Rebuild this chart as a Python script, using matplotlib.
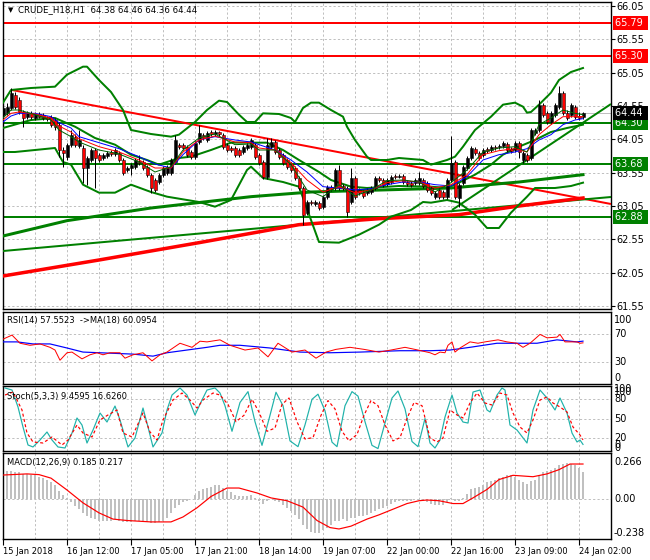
import numpy as np
import matplotlib
matplotlib.use("Agg")
from matplotlib import pyplot as plt
from matplotlib.transforms import blended_transform_factory as blend

plt.rcParams['font.family'] = ['DejaVu Sans']

W, H = 650, 560

# ---- CRUDE_H18 hourly bars ----
bar_open = [64.42, 64.44, 64.52, 64.72, 64.64, 64.46, 64.39, 64.44, 64.37, 64.43,
            64.42, 64.39, 64.39, 64.34, 64.27, 63.89, 63.79, 63.97, 64.09, 63.95,
            63.92, 63.62, 63.74, 63.89, 63.82, 63.77, 63.80, 63.86, 63.83, 63.85,
            63.74, 63.59, 63.62, 63.64, 63.73, 63.71, 63.64, 63.52, 63.44, 63.41,
            63.52, 63.55, 63.55, 63.71, 63.97, 63.97, 63.94, 63.86, 63.79, 64.01,
            64.12, 64.04, 64.16, 64.13, 64.16, 64.12, 63.97, 63.92, 63.92, 63.89,
            63.86, 63.92, 63.94, 63.97, 63.82, 63.71, 63.49, 63.94, 64.01, 63.89,
            63.82, 63.74, 63.68, 63.62, 63.47, 63.32, 62.95, 63.11, 63.08, 63.10,
            63.04, 63.19, 63.34, 63.32, 63.59, 63.35, 63.32, 63.11, 63.47, 63.29,
            63.26, 63.25, 63.26, 63.32, 63.47, 63.44, 63.38, 63.41, 63.50, 63.49,
            63.50, 63.41, 63.40, 63.40, 63.40, 63.44, 63.40, 63.32, 63.19, 63.29,
            63.26, 63.19, 63.44, 63.71, 63.17, 63.40, 63.62, 63.77, 63.91, 63.85,
            63.82, 63.91, 63.89, 63.94, 63.94, 63.95, 63.98, 63.91, 63.89, 64.00,
            63.74, 63.82, 63.77, 64.15, 64.19, 64.57, 64.44, 64.31, 64.42, 64.54,
            64.75, 64.44, 64.42, 64.54, 64.40, 64.38]
bar_high = [64.58, 64.60, 64.82, 64.76, 64.69, 64.49, 64.48, 64.48, 64.46, 64.46,
            64.44, 64.40, 64.42, 64.37, 64.31, 63.94, 64.00, 64.19, 64.13, 64.19,
            63.97, 63.80, 63.92, 63.92, 63.85, 63.85, 63.88, 63.89, 63.92, 63.88,
            63.77, 63.65, 63.70, 63.77, 63.82, 63.74, 63.67, 63.55, 63.47, 63.55,
            63.65, 63.67, 63.77, 64.12, 64.00, 64.00, 63.97, 63.89, 64.03, 64.27,
            64.15, 64.18, 64.19, 64.19, 64.18, 64.15, 64.00, 63.95, 63.95, 63.92,
            63.97, 64.00, 64.07, 64.00, 63.85, 63.74, 64.07, 64.07, 64.04, 63.92,
            63.85, 63.77, 63.71, 63.65, 63.50, 63.35, 63.14, 63.14, 63.14, 63.13,
            63.22, 63.37, 63.37, 63.62, 63.67, 63.38, 63.35, 63.62, 63.50, 63.32,
            63.29, 63.32, 63.35, 63.50, 63.50, 63.47, 63.47, 63.52, 63.53, 63.53,
            63.53, 63.44, 63.43, 63.47, 63.56, 63.47, 63.43, 63.35, 63.28, 63.32,
            63.29, 63.47, 64.10, 63.74, 63.40, 63.67, 63.80, 63.95, 63.94, 63.88,
            63.92, 63.94, 63.97, 63.97, 63.98, 64.03, 64.01, 63.94, 64.03, 64.03,
            63.88, 63.85, 64.22, 64.22, 64.64, 64.60, 64.48, 64.48, 64.60, 64.85,
            64.78, 64.49, 64.60, 64.57, 64.46, 64.46]
bar_low = [64.39, 64.42, 64.49, 64.51, 64.43, 64.24, 64.36, 64.36, 64.34, 64.37,
           64.34, 64.33, 64.24, 64.19, 63.79, 63.64, 63.74, 63.94, 63.94, 63.92,
           63.40, 63.37, 63.71, 63.32, 63.71, 63.74, 63.77, 63.80, 63.80, 63.71,
           63.52, 63.56, 63.52, 63.61, 63.67, 63.59, 63.49, 63.25, 63.26, 63.38,
           63.49, 63.52, 63.52, 63.68, 63.91, 63.89, 63.79, 63.76, 63.76, 63.98,
           64.04, 64.01, 64.10, 64.10, 64.10, 63.91, 63.86, 63.86, 63.79, 63.79,
           63.83, 63.89, 63.91, 63.76, 63.67, 63.46, 63.46, 63.91, 63.83, 63.76,
           63.67, 63.61, 63.56, 63.44, 63.29, 62.77, 62.92, 63.07, 63.05, 62.99,
           63.01, 63.16, 63.28, 63.29, 63.29, 63.29, 62.89, 63.08, 63.16, 63.22,
           63.17, 63.22, 63.23, 63.29, 63.41, 63.34, 63.35, 63.38, 63.46, 63.47,
           63.38, 63.35, 63.34, 63.37, 63.37, 63.32, 63.26, 63.22, 63.16, 63.16,
           63.16, 63.16, 63.41, 63.16, 63.04, 63.37, 63.59, 63.74, 63.82, 63.74,
           63.79, 63.85, 63.86, 63.89, 63.91, 63.92, 63.86, 63.85, 63.86, 63.77,
           63.70, 63.71, 63.74, 64.12, 64.16, 64.39, 64.28, 64.28, 64.39, 64.51,
           64.42, 64.34, 64.39, 64.36, 64.34, 64.36]
bar_close = [64.52, 64.54, 64.75, 64.54, 64.46, 64.37, 64.44, 64.39, 64.43, 64.39,
             64.37, 64.36, 64.27, 64.24, 63.89, 63.85, 63.97, 64.12, 63.97, 64.04,
             63.62, 63.77, 63.89, 63.77, 63.74, 63.82, 63.85, 63.83, 63.89, 63.74,
             63.55, 63.62, 63.67, 63.74, 63.70, 63.62, 63.52, 63.32, 63.29, 63.52,
             63.62, 63.64, 63.74, 64.04, 63.94, 63.92, 63.82, 63.79, 64.00, 64.15,
             64.07, 64.15, 64.13, 64.16, 64.13, 63.94, 63.89, 63.89, 63.82, 63.82,
             63.94, 63.97, 64.04, 63.79, 63.70, 63.49, 63.97, 64.01, 63.86, 63.79,
             63.70, 63.64, 63.59, 63.47, 63.32, 62.92, 63.11, 63.10, 63.11, 63.02,
             63.19, 63.34, 63.31, 63.59, 63.32, 63.32, 62.96, 63.47, 63.19, 63.25,
             63.20, 63.29, 63.32, 63.47, 63.44, 63.37, 63.44, 63.49, 63.49, 63.50,
             63.41, 63.38, 63.37, 63.44, 63.47, 63.35, 63.29, 63.25, 63.25, 63.19,
             63.19, 63.44, 63.70, 63.19, 63.37, 63.64, 63.77, 63.92, 63.85, 63.77,
             63.89, 63.88, 63.94, 63.92, 63.95, 64.00, 63.89, 63.88, 64.00, 63.86,
             63.85, 63.74, 64.19, 64.19, 64.57, 64.42, 64.31, 64.44, 64.57, 64.75,
             64.44, 64.37, 64.57, 64.39, 64.37, 64.44]

# bollinger bands (vertices: bar index, price)
bb_up_x = [0, 2, 7, 13, 16, 20, 21, 24, 27, 30, 32, 37, 42, 44, 48, 51, 54, 56, 59, 61,
           63, 65, 69, 72, 73, 75, 77, 79, 82, 85, 86, 88, 91, 92, 96, 99, 105, 107, 111,
           113, 115, 118, 122, 125, 128, 130, 131, 132, 134, 137, 139, 142, 145]
bb_up = [64.60, 64.79, 64.82, 64.84, 65.02, 65.14, 65.14, 64.94, 64.76, 64.49, 64.19, 64.13,
         64.09, 64.12, 64.31, 64.49, 64.63, 64.61, 64.42, 64.31, 64.31, 64.44, 64.43, 64.37,
         64.31, 64.52, 64.60, 64.60, 64.49, 64.39, 64.24, 64.04, 63.79, 63.74, 63.74, 63.77,
         63.74, 63.67, 63.74, 63.79, 63.94, 64.19, 64.39, 64.57, 64.60, 64.54, 64.45, 64.46,
         64.57, 64.75, 64.94, 65.06, 65.12]
bb_mid_x = [0, 7, 13, 18, 23, 28, 32, 36, 39, 44, 47, 52, 57, 66, 70, 74, 79, 82, 87, 91,
            99, 107, 111, 114, 118, 122, 125, 129, 133, 137, 141, 145]
bb_mid = [64.22, 64.34, 64.37, 64.24, 64.07, 63.97, 63.82, 63.74, 63.67, 63.77, 63.79, 63.89,
          64.00, 64.00, 63.89, 63.74, 63.56, 63.44, 63.34, 63.32, 63.35, 63.34, 63.32, 63.40,
          63.52, 63.67, 63.82, 63.94, 64.04, 64.16, 64.22, 64.27]
bb_lo_x = [0, 3, 13, 15, 17, 20, 24, 28, 32, 37, 41, 49, 53, 57, 61, 62, 65, 70, 74, 77,
           79, 84, 89, 94, 97, 102, 105, 107, 111, 114, 118, 121, 124, 127, 131, 133, 138,
           142, 145]
bb_lo = [63.86, 63.86, 63.92, 63.71, 63.67, 63.37, 63.25, 63.25, 63.37, 63.26, 63.19, 63.11,
         63.04, 63.14, 63.59, 63.64, 63.47, 63.41, 63.34, 62.84, 62.51, 62.50, 62.62, 62.77,
         62.89, 62.99, 63.11, 63.10, 63.14, 63.10, 62.92, 62.72, 62.72, 62.95, 63.19, 63.32,
         63.32, 63.35, 63.40]

# fast moving averages (blue / red / green)
ma_x = [0, 2, 4, 8, 12, 14, 17, 19, 24, 29, 34, 38, 42, 45, 49, 53, 58, 62, 64, 68, 72,
        76, 80, 84, 88, 92, 96, 100, 104, 108, 112, 116, 120, 124, 128, 131, 134, 137,
        140, 143, 145]
ma_blue = [64.31, 64.40, 64.44, 64.44, 64.39, 64.30, 64.22, 64.09, 64.00, 63.91, 63.79, 63.68,
           63.62, 63.82, 64.04, 64.09, 64.04, 64.01, 63.97, 63.89, 63.74, 63.56, 63.34, 63.32,
           63.29, 63.31, 63.37, 63.41, 63.41, 63.37, 63.35, 63.49, 63.74, 63.82, 63.86, 63.91,
           64.04, 64.12, 64.27, 64.34, 64.36]
ma_red = [64.34, 64.44, 64.46, 64.43, 64.37, 64.25, 64.16, 64.06, 63.94, 63.86, 63.74, 63.62,
          63.62, 63.86, 64.04, 64.10, 64.01, 64.00, 63.92, 63.89, 63.70, 63.44, 63.26, 63.34,
          63.25, 63.29, 63.40, 63.43, 63.41, 63.32, 63.37, 63.52, 63.82, 63.88, 63.91, 63.86,
          64.12, 64.27, 64.39, 64.39, 64.39]
ma_green = [64.37, 64.49, 64.49, 64.42, 64.34, 64.19, 64.09, 64.01, 63.89, 63.83, 63.71, 63.56,
            63.64, 63.89, 64.07, 64.13, 63.97, 63.98, 63.89, 63.89, 63.67, 63.29, 63.19, 63.37,
            63.20, 63.29, 63.43, 63.44, 63.41, 63.26, 63.40, 63.59, 63.86, 63.92, 63.94, 63.86,
            64.27, 64.37, 64.49, 64.44, 64.42]

# slow moving averages (thick red / thick green)
slow_red_x = [0, 24, 49, 74, 94, 114, 129, 145]
slow_red = [62.00, 62.24, 62.50, 62.77, 62.86, 62.92, 63.05, 63.17]
slow_green_x = [0, 16, 37, 62, 77, 112, 129, 145]
slow_green = [62.60, 62.83, 63.02, 63.19, 63.26, 63.32, 63.41, 63.52]

# trend lines (start bar, start price, end bar, end price)
trend_red = (2.25, 64.79, 152, 63.08)
trend_green_low = (0, 62.375, 152, 63.185)
trend_green_up = (112.25, 62.99, 152, 64.58)

levels = [65.79, 65.30, 64.30, 63.68, 62.88]
level_colors = ['#ff0000', '#ff0000', '#008000', '#008000', '#008000']
last_price = 64.44
price_ticks = [66.05, 65.55, 65.05, 64.55, 64.05, 63.55, 63.05, 62.55, 62.05, 61.55]

# RSI(14) and its MA(18)
rsi_x = [0, 2.25, 4.25, 6.75, 9.25, 11.75, 13, 14.25, 16, 17.25, 19.75, 21.75, 23.5, 25, 26.75,
         29.25, 30.5, 32.5, 35, 37.25, 39.25, 41, 44.25, 47.25, 49.25, 51, 54.25, 56.75, 60.5,
         63.75, 66.25, 68.75, 72.25, 75.5, 78.25, 80.75, 83.25, 86.75, 90.25, 94, 97, 100.5,
         103.75, 106.75, 108, 109.25, 110.5, 111.25, 112.25, 113, 114.25, 116.75, 118.75, 120.5,
         123.75, 126, 128.5, 130, 131.75, 133.5, 134.25, 136, 138.5, 139.25, 140.5, 141.75,
         143.5, 144.25, 145]
rsi = [63, 69, 57, 54, 56, 51, 47, 32, 43, 44, 34, 40, 43, 40, 43, 43, 35, 40, 43, 31, 40, 44,
       57, 51, 60, 59, 62, 54, 47, 50, 37, 57, 44, 47, 35, 44, 48, 51, 48, 44, 47, 51, 47, 43,
       40, 44, 43, 54, 59, 44, 50, 59, 57, 59, 62, 59, 57, 51, 57, 66, 70, 65, 66, 70, 59, 59,
       59, 57, 57.6]
rsi_ma_x = [0, 3.5, 7.5, 11.75, 16, 20, 24.25, 32.5, 37.5, 41, 46, 51, 54.25, 59.25, 66.75,
            74.25, 81.75, 89.25, 99.25, 106.75, 111.75, 116.75, 123.5, 130, 133.5, 138.5,
            143.5, 145]
rsi_ma = [59, 59, 56, 56, 50, 44, 43, 41, 38, 43, 47, 51, 54, 54, 50, 44, 43, 44, 46, 46, 47,
          51, 57, 57, 57, 62, 59, 60.1]
rsi_levels = [70, 30]
rsi_labels = [('100', 91), ('70', 70), ('30', 30), ('0', 6)]

# Stochastic(5,3,3): %K and %D
stk_x = [0.5, 2.25, 3.75, 5, 6.25, 7.5, 9.25, 11, 12.25, 13.75, 15.5, 17.25, 18.5, 19.75, 21,
         22.5, 24.25, 26, 28, 29.25, 31.25, 33, 35, 36.25, 37.5, 39.75, 41, 42.25, 44.25, 46,
         48, 49.75, 51, 53, 54.25, 55.5, 57.25, 59.25, 61.25, 63, 64.75, 66.75, 68.25, 70,
         71.75, 73.75, 75.5, 77.25, 78.75, 80.5, 82.25, 83.5, 85.5, 87.25, 88.75, 90.5, 92.25,
         93.75, 95.5, 97.25, 98.75, 100.5, 102.25, 103.75, 105.5, 106.75, 108, 109.25, 110.5,
         112.25, 113.5, 115, 116.25, 117.5, 119.25, 121, 121.75, 123.5, 124.75, 125.5, 126.75,
         128.5, 131, 132.5, 134.25, 136, 138, 139.25, 141, 142.25, 143.5, 144.25, 145]
stk_k = [97.7, 94.5, 68, 36.7, 8.6, 5.5, 16.4, 28.9, 16.4, 5.5, 3.9, 27.3, 50.8, 39.8, 11.7,
         32, 58.6, 44.5, 69.5, 47.7, 5.5, 19.5, 66.4, 36.7, 5.5, 27.3, 63.3, 86.7, 97.7, 86.7,
         55.5, 78.9, 94.5, 97.7, 89.8, 70, 30, 75, 92, 45, 8, 55, 91, 70, 15, 6, 40, 80, 88, 62,
         13, 6, 70, 92, 85, 45, 8, 3, 43, 82, 93, 65, 14, 6, 50, 11.7, 3.9, 16.4, 52.3, 86.7,
         58.6, 44.5, 42.9, 91.4, 94.5, 63.3, 60.2, 86.7, 97.7, 94.5, 39.8, 32, 11.7, 63.3, 94.5,
         82, 63.3, 82, 58.6, 27.3, 13.3, 16.4, 9.5]
std_x = [0.5, 2.5, 4.75, 6, 7.5, 10, 12.25, 14.75, 16.25, 18.5, 20, 22.25, 24.25, 26.25, 28.5,
         30, 32.25, 35, 36.75, 38.5, 40, 42.5, 44.75, 46.75, 48.5, 50, 52.5, 54.25, 56.25, 58.25,
         60.25, 62.25, 64, 66, 68, 69.75, 71.5, 73.5, 75.5, 77.5, 79.5, 81.25, 83, 84.75, 86.5,
         88.5, 90.25, 92, 93.75, 95.5, 97.5, 99.25, 101, 102.75, 104.75, 106.75, 108.5, 110,
         111.75, 113.5, 115, 116.75, 118.5, 120.5, 122.25, 124.25, 126, 127.5, 129.25, 131,
         132.5, 134.25, 136, 137.5, 139.25, 141, 142.5, 144.25, 145]
std_d = [86.7, 91.4, 63.3, 27.3, 13.3, 11.7, 21.1, 8.6, 16.4, 39.8, 27.3, 21.1, 47.7, 55.5,
         63.3, 27.3, 21.1, 58.6, 28.9, 16.4, 47.7, 78.9, 89.8, 78.9, 66.4, 78.9, 89.8, 86.7,
         72, 45, 55, 80, 60, 30, 35, 72, 82, 45, 18, 20, 55, 78, 65, 30, 15, 25, 55, 78, 70, 40,
         15, 20, 50, 75, 70, 19.5, 13.3, 19.5, 63.3, 55.5, 50.8, 74.2, 89.8, 74.2, 71.1, 89.8,
         86.7, 58.6, 36.7, 27.3, 47.7, 78.9, 83.6, 74.2, 68, 60.2, 36.7, 24.2, 16.6]
stoch_levels = [80, 50, 20]
stoch_labels = [('100', 96), ('100', 91), ('80', 80), ('50', 50), ('20', 20), ('0', 9), ('0', 4)]

# MACD(12,26,9): histogram per bar and signal line
macd_hist = [0.19, 0.20, 0.20, 0.19, 0.19, 0.18, 0.18, 0.17, 0.17, 0.16,
             0.15, 0.14, 0.12, 0.10, 0.06, 0.03, 0.01, -0.02, -0.05, -0.07,
             -0.10, -0.12, -0.13, -0.14, -0.15, -0.15, -0.15, -0.15, -0.14, -0.15,
             -0.16, -0.16, -0.16, -0.15, -0.15, -0.15, -0.16, -0.17, -0.17, -0.16,
             -0.15, -0.13, -0.10, -0.06, -0.04, -0.02, -0.01, 0.00, 0.03, 0.06,
             0.07, 0.08, 0.09, 0.10, 0.10, 0.08, 0.06, 0.05, 0.03, 0.02,
             0.02, 0.02, 0.03, 0.01, -0.01, -0.03, -0.01, 0.00, -0.01, -0.02,
             -0.04, -0.06, -0.08, -0.11, -0.14, -0.18, -0.21, -0.23, -0.24, -0.24,
             -0.22, -0.20, -0.18, -0.15, -0.15, -0.14, -0.15, -0.13, -0.13, -0.12,
             -0.12, -0.11, -0.10, -0.08, -0.07, -0.06, -0.05, -0.03, -0.02, -0.01,
             -0.01, -0.01, -0.01, 0.00, 0.00, -0.01, -0.02, -0.03, -0.04, -0.04,
             -0.04, -0.02, 0.01, -0.01, -0.01, 0.01, 0.04, 0.07, 0.08, 0.09,
             0.10, 0.12, 0.13, 0.14, 0.15, 0.16, 0.17, 0.17, 0.16, 0.14,
             0.12, 0.11, 0.13, 0.14, 0.17, 0.19, 0.20, 0.21, 0.22, 0.24,
             0.25, 0.26, 0.25, 0.24, 0.22, 0.19]
sig_x = [0, 6, 9, 12, 16, 20, 24, 27.5, 31, 37, 42, 45, 48.5, 52, 56, 59, 63.5, 67, 71, 75,
         78.5, 81.75, 84, 87, 91, 94, 97.5, 101, 104, 106, 109, 112.5, 115, 117.5, 121, 124,
         127.5, 132.5, 136, 139, 141.75, 145]
macd_sig = [0.172, 0.18, 0.175, 0.15, 0.066, -0.025, -0.096, -0.14, -0.15, -0.16, -0.16, -0.125,
            -0.06, 0.02, 0.08, 0.08, 0.045, 0.01, -0.01, -0.055, -0.15, -0.2, -0.21, -0.19,
            -0.14, -0.11, -0.07, -0.03, -0.01, -0.005, -0.01, -0.03, -0.03, 0.01, 0.07, 0.14,
            0.17, 0.16, 0.18, 0.21, 0.25, 0.25]
macd_labels = [('0.266', 0.266), ('0.00', 0.0), ('-0.238', -0.238)]

time_labels = ['15 Jan 2018', '16 Jan 12:00', '17 Jan 05:00', '17 Jan 21:00', '18 Jan 14:00',
               '19 Jan 07:00', '22 Jan 00:00', '22 Jan 16:00', '23 Jan 09:00', '24 Jan 02:00']

GRID = '#c0c0c0'
DASH = (0, (2.2, 2.2))
PX = 72 / 100.0   # one pixel in points

fig = plt.figure(figsize=(W / 100, H / 100), dpi=100)


def panel(top, bottom, ylim):
    ax = fig.add_axes([3 / W, 1 - bottom / H, 608 / W, (bottom - top) / H])
    ax.set_xlim(0, 152)
    ax.set_ylim(*ylim)
    for s in ax.spines.values():
        s.set_linewidth(1.0)
        s.set_color('black')
    ax.set_xticks([])
    ax.set_yticks([])
    for b in range(8, 152, 8):
        ax.axvline(b, color=GRID, lw=PX, ls=DASH, zorder=0)
    return ax


def side_labels(ax, items, size=7):
    tr = blend(ax.transAxes, ax.transData)
    for txt, v in items:
        ax.text(1 + 3 / 608, v, txt, transform=tr, fontsize=size, va='center', ha='left',
                clip_on=False)


# ---------------- main price panel ----------------
ax = panel(2, 309, (66.14 - 0.015 * 309, 66.14 - 0.015 * 2))
for p in price_ticks:
    ax.axhline(p, color=GRID, lw=PX, ls=DASH, zorder=0)
ax.yaxis.tick_right()
ax.set_yticks(price_ticks)
ax.set_yticklabels(['%.2f' % p for p in price_ticks], fontsize=7)
ax.tick_params(axis='y', length=3, pad=1, width=0.8)

ax.axhline(last_price, color='#c0c0c0', lw=PX, zorder=1)
for lv, c in zip(levels, level_colors):
    ax.axhline(lv, color=c, lw=2 * PX, zorder=2)

for tl, c, w in [(trend_red, '#ff0000', 2), (trend_green_low, '#008000', 2),
                 (trend_green_up, '#008000', 2)]:
    ax.plot([tl[0], tl[2]], [tl[1], tl[3]], color=c, lw=w * PX, zorder=3,
            solid_capstyle='butt')
ax.plot(slow_red_x, slow_red, color='#ff0000', lw=3.5 * PX, zorder=3)
ax.plot(slow_green_x, slow_green, color='#008000', lw=3 * PX, zorder=3)
ax.plot(bb_up_x, bb_up, color='#008000', lw=2 * PX, zorder=3)
ax.plot(bb_mid_x, bb_mid, color='#008000', lw=2 * PX, zorder=3)
ax.plot(bb_lo_x, bb_lo, color='#008000', lw=2 * PX, zorder=3)

o = np.array(bar_open)
c = np.array(bar_close)
hi = np.array(bar_high)
lo = np.array(bar_low)
bars = np.arange(len(c))
up = c >= o
ax.vlines(bars, lo, hi, color='black', lw=PX, zorder=4)
body = np.maximum(np.abs(c - o), 0.008)
ax.bar(bars, body, bottom=np.minimum(o, c), width=0.75,
       color=np.where(up, 'black', '#ff0000'), edgecolor='black', lw=0.5 * PX, zorder=5)

ax.plot(ma_x, ma_blue, color='#0000ff', lw=PX, zorder=6)
ax.plot(ma_x, ma_red, color='#ff0000', lw=PX, zorder=6)
ax.plot(ma_x, ma_green, color='#006400', lw=PX, zorder=6)

tr = blend(ax.transAxes, ax.transData)
for lv, col in zip(levels, level_colors):
    ax.text(1 + 4 / 608, lv, '%.2f ' % lv, transform=tr, fontsize=7, color='white',
            va='center', ha='left', clip_on=False,
            bbox=dict(boxstyle='square,pad=0.22', fc=col, ec='none'))
ax.text(1 + 4 / 608, last_price, '%.2f ' % last_price, transform=tr, fontsize=7,
        color='white', va='center', ha='left', clip_on=False,
        bbox=dict(boxstyle='square,pad=0.22', fc='black', ec='none'))

fig.text(8 / W, 1 - 10 / H, '\u25bc', fontsize=5, va='center', ha='left')
fig.text(18 / W, 1 - 10 / H, 'CRUDE_H18,H1  64.38 64.46 64.36 64.44', fontsize=6.2,
         va='center', ha='left')

# ---------------- RSI ----------------
ax_r = panel(312, 384, (-3, 103))
for lv in rsi_levels:
    ax_r.axhline(lv, color=GRID, lw=PX, ls=DASH, zorder=0)
ax_r.plot(rsi_ma_x, rsi_ma, color='#0000ff', lw=PX * 1.2, zorder=3)
ax_r.plot(rsi_x, rsi, color='#ff0000', lw=PX, zorder=4)
side_labels(ax_r, rsi_labels)
fig.text(7 / W, 1 - 321 / H, 'RSI(14) 57.5523  ->MA(18) 60.0954', fontsize=6,
         va='center', ha='left')

# ---------------- Stochastic ----------------
ax_s = panel(386, 451, (-0.8, 100.8))
for lv in stoch_levels:
    ax_s.axhline(lv, color=GRID, lw=PX, ls=DASH, zorder=0)
ax_s.plot(stk_x, stk_k, color='#20b2aa', lw=PX * 1.2, zorder=3)
ax_s.plot(std_x, std_d, color='#ff0000', lw=PX * 1.2, ls=(0, (2.5, 2)), zorder=4)
side_labels(ax_s, stoch_labels)
fig.text(7 / W, 1 - 396 / H, 'Stoch(5,3,3) 9.4595 16.6260', fontsize=6,
         va='center', ha='left')

# ---------------- MACD ----------------
ax_m = panel(453, 539, (-0.281, 0.328))
ax_m.axhline(0, color=GRID, lw=PX, ls=DASH, zorder=0)
ax_m.bar(bars, macd_hist, width=0.3, color='#c0c0c0', zorder=2)
ax_m.plot(sig_x, macd_sig, color='#ff0000', lw=PX * 1.2, zorder=3)
side_labels(ax_m, macd_labels)
fig.text(7 / W, 1 - 463 / H, 'MACD(12,26,9) 0.185 0.217', fontsize=6,
         va='center', ha='left')

ax_m.set_xticks(range(0, 152, 16))
ax_m.set_xticklabels(time_labels, fontsize=6, ha='left')
ax_m.tick_params(axis='x', length=4, pad=1.5, width=0.8)

fig.savefig('out.png', dpi=100)
